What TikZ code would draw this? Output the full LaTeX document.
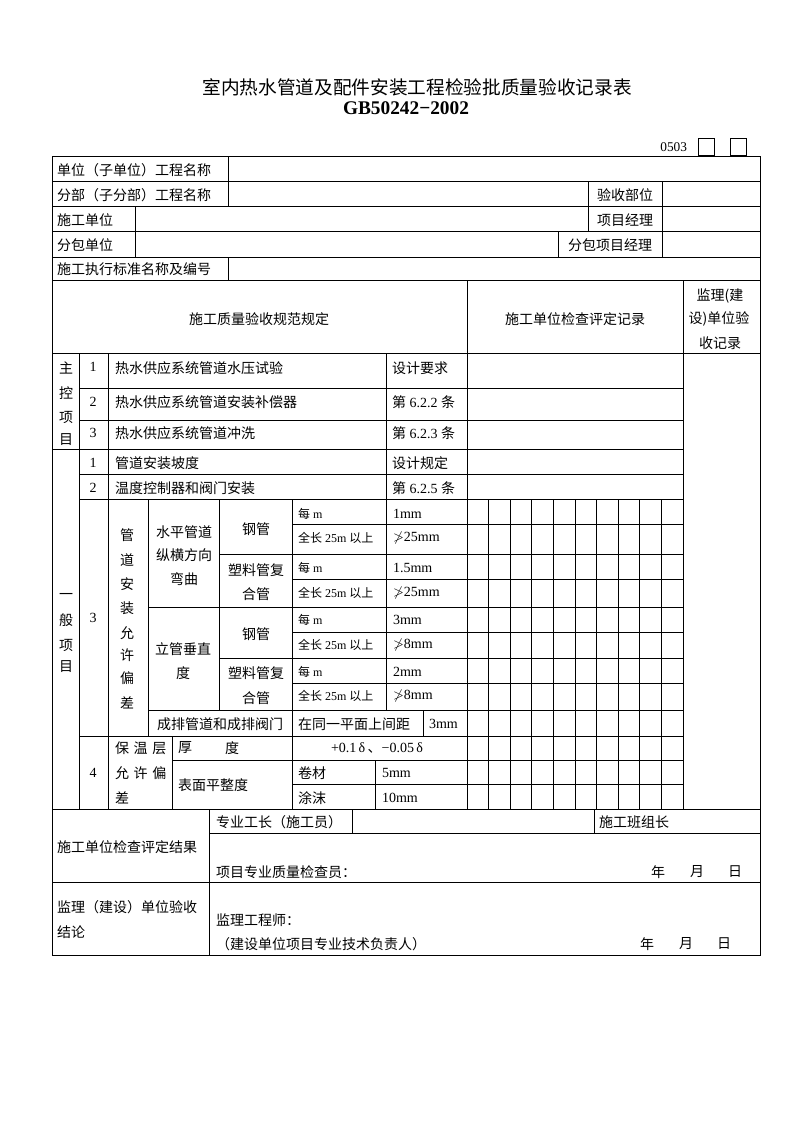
\documentclass[tikz,border=0pt]{standalone}
\usepackage{fontspec}
\usepackage{amssymb}
\setmainfont{Liberation Serif}
\newfontfamily\cjk{Noto Sans CJK SC}
\newcommand{\zz}[1]{{\cjk #1}}
\begin{document}
\begin{tikzpicture}[x=0.75pt,y=-0.75pt,line width=0.75pt,
  every node/.style={inner sep=0pt,outer sep=0pt},
  zh/.style={font=\cjk\fontsize{10.5}{12}\selectfont},
  zl/.style={zh,anchor=west},
  tl/.style={font=\fontsize{10.5}{12}\selectfont,anchor=west},
  tc/.style={font=\fontsize{10.5}{12}\selectfont},
  sl/.style={font=\fontsize{9}{11}\selectfont,anchor=west}]
\useasboundingbox (0,0) rectangle (794,1123);
% title
\node[font=\cjk\fontsize{14}{16}\selectfont] (title) at (417,87) {室内热水管道及配件安装工程检验批质量验收记录表};
\node[font=\bfseries\fontsize{14.5}{16}\selectfont] (gb) at (406,108) {GB50242−2002};
\node[font=\fontsize{10}{12}\selectfont,anchor=east] (code) at (687,147) {0503};
\draw (698,139) rectangle (714,156);
\draw (730,139) rectangle (746,156);
% outer frame
\draw (52,157) rectangle (760,955);
% horizontal lines
\foreach \y in {182,207,232,257,280,353,809,882} \draw (52,\y) -- (760,\y);
\foreach \y in {388,420,474,499} \draw (79,\y) -- (683,\y);
\draw (52,449) -- (683,449);
\foreach \y in {524,579,632,683,784} \draw (292,\y) -- (683,\y);
\foreach \y in {554,658} \draw (219,\y) -- (683,\y);
\foreach \y in {607,710} \draw (148,\y) -- (683,\y);
\draw (79,736) -- (683,736);
\draw (172,760) -- (683,760);
\draw (209,833) -- (760,833);
% vertical lines
\draw (228,157) -- (228,207);
\draw (228,257) -- (228,280);
\draw (135,207) -- (135,257);
\draw (588,182) -- (588,232);
\draw (662,182) -- (662,257);
\draw (558,232) -- (558,257);
\draw (467,280) -- (467,809);
\draw (683,280) -- (683,809);
\draw (79,353) -- (79,809);
\draw (108,353) -- (108,809);
\draw (386,353) -- (386,710);
\draw (148,499) -- (148,736);
\draw (219,499) -- (219,710);
\draw (292,499) -- (292,809);
\draw (423,710) -- (423,736);
\draw (172,736) -- (172,809);
\draw (375,760) -- (375,809);
\foreach \i in {1,...,9} \draw ({467+21.6*\i},499) -- ({467+21.6*\i},809);
\draw (209,809) -- (209,955);
\draw (352,809) -- (352,833);
\draw (594,809) -- (594,833);
% header texts
\node[zl] (h1) at (57,170) {单位（子单位）工程名称};
\node[zl] (h2) at (57,195) {分部（子分部）工程名称};
\node[zh] (h2b) at (625,195) {验收部位};
\node[zl] (h3) at (57,220) {施工单位};
\node[zh] (h3b) at (625,220) {项目经理};
\node[zl] (h4) at (57,245) {分包单位};
\node[zh] (h4b) at (610,245) {分包项目经理};
\node[zl] (h5) at (57,269) {施工执行标准名称及编号};
\node[zh] (h6a) at (259,319) {施工质量验收规范规定};
\node[zh] (h6b) at (575,319) {施工单位检查评定记录};
\node[zh] (h6c1) at (720,296) {监理(建};
\node[zh] (h6c2) at (719,319) {设)单位验};
\node[zh] (h6c3) at (720,343) {收记录};
% main items
\foreach \c/\y in {主/368,控/393,项/417,目/440} \node[zh] at (66,\y) {\c};
\node[tc] (m1n) at (93,367) {1};
\node[tc] (m2n) at (93,402) {2};
\node[tc] (m3n) at (93,433) {3};
\node[zl] (m1) at (115,368) {热水供应系统管道水压试验};
\node[zl] (m2) at (115,402) {热水供应系统管道安装补偿器};
\node[zl] (m3) at (115,433) {热水供应系统管道冲洗};
\node[zl] (m1s) at (392,368) {设计要求};
\node[tl] (m2s) at (392,402) {\zz{第} 6.2.2 \zz{条}};
\node[tl] (m3s) at (392,433) {\zz{第} 6.2.3 \zz{条}};
% general items
\foreach \c/\y in {一/596,般/620,项/645,目/667} \node[zh] at (66,\y) {\c};
\node[tc] (g1n) at (93,463) {1};
\node[tc] (g2n) at (93,488) {2};
\node[zl] (g1) at (115,463) {管道安装坡度};
\node[zl] (g2) at (115,488) {温度控制器和阀门安装};
\node[zl] (g1s) at (392,463) {设计规定};
\node[tl] (g2s) at (392,488) {\zz{第} 6.2.5 \zz{条}};
\node[tc] (g3n) at (93,618) {3};
\foreach \c/\y in {管/535,道/560,安/584,装/608,允/633,许/655,偏/678,差/703} \node[zh] at (127,\y) {\c};
\node[zh] (hz1) at (184,532) {水平管道};
\node[zh] (hz2) at (184,555) {纵横方向};
\node[zh] (hz3) at (184,579) {弯曲};
\node[zh] (gg1) at (256,529) {钢管};
\node[zh] (sl1a) at (256,570) {塑料管复};
\node[zh] (sl1b) at (256,594) {合管};
\node[zh] (lg1) at (183,649) {立管垂直};
\node[zh] (lg2) at (183,673) {度};
\node[zh] (gg2) at (256,634) {钢管};
\node[zh] (sl2a) at (256,673) {塑料管复};
\node[zh] (sl2b) at (256,698) {合管};
\foreach \y/\v in {514/1mm,568/1.5mm,620/3mm,672/2mm} {
  \node[sl] at (298,\y) {\zz{每} m};
  \node[tl] at (393,\y) {\v};
}
\foreach \y/\v in {538/25mm,593/25mm,645/8mm,696/8mm} {
  \node[sl] at (298,\y) {\zz{全长} 25m \zz{以上}};
  \node[tl] at (393,\y) {$\ngtr$\v};
}
\node[zh] (cp) at (220,724) {成排管道和成排阀门};
\node[zl] (tp) at (298,724) {在同一平面上间距};
\node[tl] (tp3) at (429,724) {3mm};
\node[tc] (g4n) at (93,773) {4};
\node[zl] (bw1) at (115,748) {保\,\,温\,\,层};
\node[zl] (bw2) at (115,773) {允\,\,许\,\,偏};
\node[zl] (bw3) at (115,798) {差};
\node[zh] (hd1) at (185,748) {厚};
\node[zh] (hd2) at (232,748) {度};
\node[tc] (hdv) at (377,748) {+0.1\,δ\,\zz{、}−0.05\,δ};
\node[zl] (bm) at (178,785) {表面平整度};
\node[zl] (jc) at (298,773) {卷材};
\node[tl] (jcv) at (382,773) {5mm};
\node[zl] (tm) at (298,798) {涂沫};
\node[tl] (tmv) at (382,798) {10mm};
% footer
\node[zl] (f1) at (57,847) {施工单位检查评定结果};
\node[zl] (f2) at (216,822) {专业工长（施工员）};
\node[zl] (f3) at (599,822) {施工班组长};
\node[zl] (f4) at (216,872) {项目专业质量检查员：};
\node[zh] at (658,872) {年};
\node[zh] at (697,872) {月};
\node[zh] at (735,872) {日};
\node[zl] (f5) at (57,907) {监理（建设）单位验收};
\node[zl] (f6) at (57,932) {结论};
\node[zl] (f7) at (216,920) {监理工程师：};
\node[zl] (f8) at (216,944) {（建设单位项目专业技术负责人）};
\node[zh] at (647,944) {年};
\node[zh] at (686,944) {月};
\node[zh] at (724,944) {日};
\end{tikzpicture}
\end{document}
